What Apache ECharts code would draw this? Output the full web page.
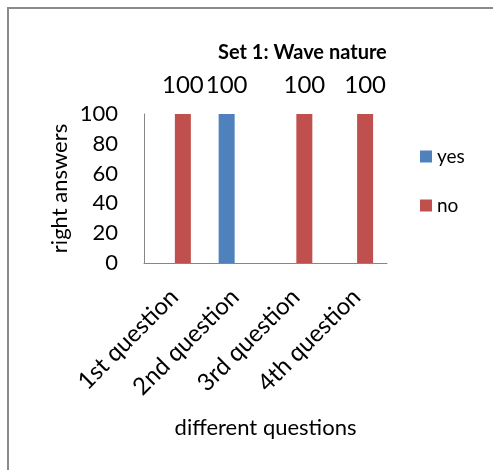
<!DOCTYPE html>
<html>
<head>
<meta charset="utf-8">
<script src="https://cdn.jsdelivr.net/npm/echarts@6/dist/echarts.min.js"></script>
<style>
  html, body { margin: 0; padding: 0; background: #fff; }
  #chart { width: 493px; height: 470px; }
</style>
</head>
<body>
<div id="chart"></div>
<script>
// Chart data
const titleText = 'Set 1: Wave nature';
const categories = ['1st question', '2nd question', '3rd question', '4th question'];
const yesValues = [null, 100, null, null];
const noValues = [100, null, 100, 100];
const yTicks = { min: 0, max: 100, step: 20 };

const FONT = 'Lato';
const chart = echarts.init(document.getElementById('chart'));

const valueLabel = {
  show: true,
  position: 'top',
  distance: 17,
  fontFamily: FONT,
  fontSize: 24,
  color: '#000'
};

chart.setOption({
  animation: false,
  backgroundColor: '#fff',
  graphic: [{
    type: 'rect',
    shape: { x: 8, y: 8, width: 520, height: 500 },
    style: { fill: 'none', stroke: '#8a8a8a', lineWidth: 2 },
    silent: true
  }],
  title: {
    text: titleText,
    left: 218,
    top: 43,
    padding: 0,
    textStyle: { fontFamily: FONT, fontSize: 20, fontWeight: 'bold', color: '#000' }
  },
  legend: {
    orient: 'vertical',
    left: 420,
    top: 147,
    padding: 0,
    itemWidth: 12,
    itemHeight: 12,
    itemGap: 30,
    icon: 'rect',
    textStyle: { fontFamily: FONT, fontSize: 19, color: '#000', lineHeight: 19 },
    data: ['yes', 'no']
  },
  grid: { left: 144, right: 106, top: 114, bottom: 207, containLabel: false },
  xAxis: {
    type: 'category',
    data: categories,
    name: 'different questions',
    nameLocation: 'middle',
    nameGap: 154,
    nameTextStyle: { fontFamily: FONT, fontSize: 22, color: '#000' },
    axisLine: { lineStyle: { color: '#868686', width: 1 } },
    axisTick: { show: false },
    axisLabel: {
      rotate: 45,
      margin: 30,
      interval: 0,
      fontFamily: FONT,
      fontSize: 24,
      color: '#000'
    }
  },
  yAxis: {
    type: 'value',
    min: yTicks.min,
    max: yTicks.max,
    interval: yTicks.step,
    name: 'right answers',
    nameLocation: 'middle',
    nameGap: 73,
    nameTextStyle: { fontFamily: FONT, fontSize: 22, color: '#000' },
    axisLine: { show: true, lineStyle: { color: '#868686', width: 1 } },
    axisTick: { show: false },
    splitLine: { show: false },
    axisLabel: { margin: 26, fontFamily: FONT, fontSize: 22, color: '#000' }
  },
  series: [
    {
      name: 'yes',
      type: 'bar',
      data: yesValues,
      barWidth: 16,
      barGap: '6%',
      itemStyle: { color: '#4F81BD' },
      label: valueLabel
    },
    {
      name: 'no',
      type: 'bar',
      data: noValues,
      barWidth: 16,
      barGap: '6%',
      itemStyle: { color: '#C0504D' },
      label: valueLabel
    }
  ]
});
</script>
</body>
</html>
